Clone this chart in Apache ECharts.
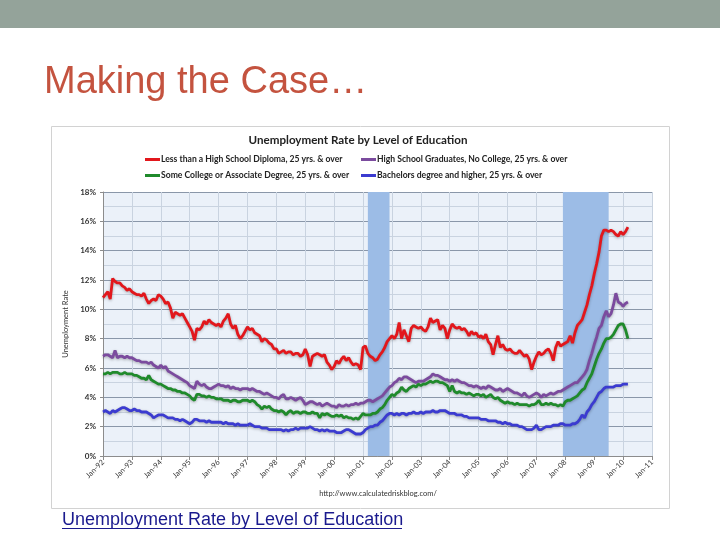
<!DOCTYPE html>
<html><head><meta charset="utf-8">
<script src="https://cdn.jsdelivr.net/npm/echarts@6/dist/echarts.min.js"></script>
<style>html,body{margin:0;padding:0;background:#fff}#c{width:720px;height:540px}</style>
</head><body><div id="c"></div>
<script>
// Monthly unemployment rates (%), Jan-1992 .. Mar-2010
const lessHS = [
10.8,11.0,11.2,10.7,12.1,11.9,11.8,11.8,11.6,11.5,11.3,11.4,
11.2,11.1,11.0,11.0,10.9,11.1,10.7,10.4,10.6,10.7,10.6,11.0,
10.9,10.7,10.4,10.5,10.1,9.4,9.8,9.7,9.6,9.7,9.4,9.1,
8.8,8.5,7.9,8.7,8.6,8.8,9.2,9.0,9.3,9.1,9.0,8.9,
9.0,8.8,9.2,9.4,9.7,9.0,8.7,8.9,8.3,8.0,8.2,8.5,
8.8,8.6,8.7,8.4,8.3,8.2,7.8,8.0,7.9,7.7,7.6,7.3,
7.3,7.0,7.1,7.2,7.0,7.1,7.1,6.9,7.0,7.0,6.8,6.9,
7.3,6.9,6.1,6.8,6.9,7.0,6.9,6.8,6.9,6.4,6.2,5.9,
6.1,6.5,6.3,6.6,6.8,6.5,6.7,6.4,6.2,6.3,6.2,5.9,
7.4,7.5,7.0,6.8,6.7,6.5,6.6,6.9,7.1,7.4,7.8,8.0,
8.2,8.0,8.3,9.1,8.0,8.6,8.2,7.8,8.7,8.9,8.8,8.7,
8.8,8.6,8.5,8.8,9.4,9.1,9.2,9.3,8.6,8.9,8.7,8.0,
8.6,9.0,8.8,8.7,8.8,8.6,8.7,8.5,8.2,8.5,8.3,8.4,
8.1,8.2,8.0,8.3,7.8,7.6,6.9,7.6,8.2,7.4,7.6,7.3,
7.2,7.3,7.1,7.0,7.0,7.2,7.0,6.8,6.9,6.6,5.9,6.4,
6.8,7.1,6.9,7.0,7.2,7.3,7.0,6.5,7.4,7.8,7.5,7.6,
7.7,7.8,8.2,7.7,8.4,8.9,9.1,9.3,9.8,10.3,11.0,11.6,
12.4,13.1,13.9,15.0,15.4,15.4,15.3,15.4,15.3,15.1,15.0,15.3,
15.1,15.3,15.6];
const hsGrad = [
6.8,6.9,6.9,6.8,6.7,7.2,6.7,6.8,6.8,6.7,6.8,6.7,
6.7,6.6,6.5,6.5,6.4,6.4,6.4,6.3,6.4,6.2,6.1,6.0,
6.2,6.0,6.1,5.8,5.7,5.6,5.5,5.4,5.3,5.2,5.1,5.0,
4.8,4.7,4.6,5.1,4.9,4.8,4.9,4.7,4.6,4.6,4.7,4.8,
4.9,4.8,4.8,4.7,4.8,4.6,4.7,4.6,4.6,4.5,4.6,4.6,
4.6,4.5,4.6,4.5,4.4,4.4,4.3,4.2,4.3,4.2,4.1,4.0,
4.0,3.9,4.1,4.2,3.9,3.9,4.0,3.9,3.8,3.9,4.0,3.8,
3.5,3.6,3.7,3.7,3.6,3.5,3.6,3.4,3.5,3.6,3.5,3.4,
3.4,3.3,3.5,3.4,3.4,3.5,3.4,3.5,3.5,3.6,3.5,3.6,
3.6,3.7,3.8,3.8,3.7,3.8,3.9,4.0,4.1,4.3,4.5,4.7,
4.8,5.0,5.1,5.3,5.2,5.4,5.4,5.3,5.2,5.1,5.0,5.1,
5.1,5.1,5.2,5.3,5.4,5.6,5.5,5.5,5.4,5.3,5.2,5.2,
5.1,5.2,5.1,5.2,5.1,5.0,5.0,4.9,4.8,4.8,4.7,4.8,
4.7,4.6,4.7,4.6,4.8,4.7,4.6,4.5,4.5,4.6,4.4,4.5,
4.6,4.5,4.4,4.3,4.3,4.2,4.1,4.3,4.1,4.0,4.1,4.2,
4.3,4.2,4.0,4.2,4.1,4.2,4.3,4.2,4.3,4.4,4.4,4.5,
4.6,4.7,4.8,4.9,5.0,5.0,5.2,5.4,5.6,5.9,6.5,7.0,
7.6,8.1,8.7,8.9,9.5,9.9,9.5,9.7,10.3,11.1,10.5,10.4,
10.2,10.4,10.5];
const someCollege = [
5.6,5.6,5.7,5.6,5.7,5.7,5.7,5.6,5.6,5.7,5.6,5.6,
5.6,5.5,5.5,5.4,5.3,5.3,5.2,5.5,5.2,5.1,5.0,4.9,
4.9,4.8,4.7,4.6,4.6,4.5,4.5,4.4,4.4,4.3,4.3,4.2,
4.1,3.9,3.8,4.2,4.2,4.1,4.1,4.0,4.1,4.0,4.0,3.9,
3.9,3.9,3.8,3.8,3.8,3.7,3.8,3.8,3.7,3.7,3.8,3.8,
3.8,3.7,3.8,3.7,3.5,3.4,3.2,3.4,3.3,3.4,3.2,3.1,
3.1,3.0,3.1,3.0,2.8,3.0,3.1,2.9,3.0,3.0,2.9,3.0,
3.0,2.9,2.9,3.0,2.9,2.9,2.6,2.9,2.8,2.9,2.8,2.7,
2.7,2.8,2.7,2.8,2.6,2.7,2.6,2.6,2.5,2.6,2.5,2.7,
2.9,2.8,2.8,2.8,2.9,2.9,3.0,3.2,3.3,3.5,3.8,4.0,
4.2,4.1,4.3,4.4,4.7,4.5,4.4,4.6,4.7,4.8,4.7,4.9,
4.8,4.9,4.9,5.0,5.1,5.0,5.1,5.1,5.0,5.0,4.9,4.8,
4.4,4.8,4.4,4.3,4.4,4.3,4.3,4.2,4.3,4.2,4.1,4.2,
4.2,4.1,4.2,4.0,4.1,4.2,4.0,3.9,4.0,3.8,3.7,3.6,
3.7,3.6,3.6,3.5,3.6,3.5,3.5,3.5,3.5,3.4,3.5,3.5,
3.6,3.8,3.5,3.5,3.6,3.5,3.6,3.5,3.5,3.4,3.5,3.4,
3.7,3.8,3.8,3.9,4.0,4.1,4.3,4.5,4.6,5.0,5.3,5.6,
6.1,6.6,7.0,7.3,7.7,8.0,8.0,8.1,8.3,8.6,8.9,9.0,
9.0,8.6,8.0];
const bachelors = [
3.0,3.1,3.0,2.9,3.1,3.0,3.1,3.2,3.3,3.3,3.2,3.1,
3.1,3.2,3.1,3.1,3.0,3.0,3.0,2.9,2.8,2.6,2.7,2.8,
2.8,2.8,2.7,2.6,2.6,2.6,2.5,2.5,2.4,2.5,2.4,2.3,
2.2,2.3,2.5,2.5,2.4,2.4,2.4,2.3,2.4,2.3,2.3,2.3,
2.3,2.3,2.2,2.3,2.2,2.2,2.2,2.1,2.2,2.1,2.1,2.1,
2.1,2.2,2.1,2.0,2.0,2.0,1.9,1.9,1.9,1.8,1.8,1.8,
1.8,1.8,1.8,1.7,1.8,1.7,1.8,1.8,1.9,1.8,1.9,1.9,
1.9,1.9,2.0,1.9,1.8,1.8,1.7,1.8,1.7,1.8,1.7,1.7,
1.7,1.6,1.6,1.6,1.7,1.8,1.8,1.7,1.6,1.5,1.5,1.5,
1.6,1.8,1.9,2.0,2.0,2.1,2.1,2.3,2.4,2.6,2.8,2.9,
2.9,2.8,2.9,2.8,2.9,2.9,2.8,2.9,2.9,3.0,2.9,2.9,
3.0,2.9,3.0,3.0,3.0,3.1,3.0,3.0,3.1,3.1,3.1,3.0,
2.9,2.9,2.9,2.8,2.8,2.8,2.7,2.7,2.6,2.6,2.6,2.6,
2.6,2.5,2.5,2.5,2.4,2.4,2.4,2.4,2.3,2.3,2.2,2.3,
2.2,2.2,2.1,2.1,2.1,2.0,2.0,1.9,1.8,1.8,1.8,1.9,
2.1,1.8,1.8,1.9,2.0,2.0,2.0,2.1,2.1,2.1,2.2,2.2,
2.1,2.1,2.1,2.2,2.2,2.3,2.5,2.8,2.6,3.0,3.2,3.5,
3.7,4.0,4.3,4.4,4.6,4.7,4.7,4.7,4.7,4.8,4.8,4.8,
4.9,4.9,4.9];

const seriesNames = [
  'Less than a High School Diploma, 25 yrs. & over',
  'High School Graduates, No College, 25 yrs. & over',
  'Some College or Associate Degree, 25 yrs. & over',
  'Bachelors degree and higher, 25 yrs. & over'
];
const seriesColors = ['#E2171C', '#7B4B9E', '#1F8A2B', '#3B3BD0'];
const seriesData = [lessHS, hsGrad, someCollege, bachelors];
const monthNames = ['Jan','Feb','Mar','Apr','May','Jun','Jul','Aug','Sep','Oct','Nov','Dec'];
const startYear = 1992, endYear = 2011;
const recessions = [['Mar-01', 'Dec-01'], ['Dec-07', 'Jul-09']];
const yTicks = {min: 0, max: 18, interval: 2};

const categories = [];
for (let y = startYear; y <= endYear; y++) {
  for (let m = 0; m < 12; m++) {
    if (y === endYear && m > 0) break;
    categories.push(monthNames[m] + '-' + String(y % 100).padStart(2, '0'));
  }
}
const isJan = (i) => i % 12 === 0;

const legendPos = [[145, 155], [361, 155], [145, 171], [361, 171]];

const chart = echarts.init(document.getElementById('c'));
const series = seriesData.map((d, i) => ({
  name: seriesNames[i], type: 'line', data: d, showSymbol: false, symbol: 'none',
  z: 3 + i,
  lineStyle: {color: seriesColors[i], width: 2.8, shadowColor: 'rgba(0,0,0,0.3)', shadowBlur: 3, shadowOffsetY: 1},
  itemStyle: {color: seriesColors[i]}
}));
series.push({
  type: 'line', data: [], z: 1, silent: true,
  markArea: {silent: true, itemStyle: {color: '#9CBCE6'},
    data: recessions.map(r => [{xAxis: r[0]}, {xAxis: r[1]}])}
});

chart.setOption({
  animation: false,
  backgroundColor: '#ffffff',
  graphic: [
    {type: 'rect', z: -100, shape: {x: 0, y: 0, width: 720, height: 28}, style: {fill: '#94A39A'}},
    {type: 'text', z: 10, x: 44, y: 83, style: {text: 'Making the Case\u2026', font: '38px "Liberation Sans", Arial, sans-serif', fill: '#C4533F', textVerticalAlign: 'middle'}},
    {type: 'rect', z: -100, shape: {x: 51.5, y: 126.5, width: 618, height: 382}, style: {fill: '#ffffff', stroke: '#D2D2D2', lineWidth: 1}},
    {type: 'text', z: 10, x: 358, y: 140, style: {text: 'Unemployment Rate by Level of Education', font: 'bold 11.6px Lato, "Open Sans", sans-serif', fill: '#222', textAlign: 'center', textVerticalAlign: 'middle'}},
    {type: 'text', z: 10, x: 378, y: 494, style: {text: 'http://www.calculatedriskblog.com/', font: '7.5px Lato, "Open Sans", sans-serif', fill: '#333', textAlign: 'center', textVerticalAlign: 'middle'}},
    {type: 'text', z: 10, x: 62, y: 520, style: {text: 'Unemployment Rate by Level of Education', font: '18px "Liberation Sans", Arial, sans-serif', fill: '#1A1A8E', textVerticalAlign: 'middle'}},
    {type: 'line', z: 10, shape: {x1: 62, y1: 528.5, x2: 402, y2: 528.5}, style: {stroke: '#1A1A8E', lineWidth: 1}}
  ],
  legend: seriesNames.map((n, i) => ({
    data: [n], left: legendPos[i][0], top: legendPos[i][1], icon: 'rect', itemWidth: 15, itemHeight: 3, itemGap: 0,
    selectedMode: false, padding: 0,
    textStyle: {fontSize: 8.6, fontWeight: 'bold', color: '#222', fontFamily: 'Lato, "Open Sans", sans-serif', padding: [0, 0, 0, -4]}
  })),
  grid: {left: 103, right: 68, top: 192, bottom: 84, show: true, backgroundColor: '#EBF1F9', borderWidth: 0},
  xAxis: {
    type: 'category', data: categories, boundaryGap: false,
    axisLine: {lineStyle: {color: '#8C8C8C'}},
    axisTick: {show: true, interval: (i) => isJan(i), length: 4, lineStyle: {color: '#8C8C8C'}},
    axisLabel: {interval: (i) => isJan(i), rotate: 45, fontSize: 7.5, color: '#333', fontFamily: 'Lato, "Open Sans", sans-serif', margin: 5},
    splitLine: {show: true, interval: (i) => isJan(i), lineStyle: {color: '#C9D3E0', width: 1}}
  },
  yAxis: {
    type: 'value', min: yTicks.min, max: yTicks.max, interval: yTicks.interval,
    name: 'Unemployment Rate', nameLocation: 'middle', nameGap: 33,
    nameTextStyle: {fontSize: 7.5, color: '#333', fontFamily: 'Lato, "Open Sans", sans-serif'},
    axisLine: {show: true, lineStyle: {color: '#8C8C8C'}},
    axisTick: {show: true, length: 3, lineStyle: {color: '#8C8C8C'}},
    axisLabel: {formatter: '{value}%', fontSize: 8, fontWeight: 'bold', color: '#333', fontFamily: 'Lato, "Open Sans", sans-serif', margin: 7},
    splitLine: {show: true, lineStyle: {color: '#8A97A9', width: 1}},
    minorTick: {show: false, splitNumber: 2},
    minorSplitLine: {show: true, lineStyle: {color: '#C9D3E0', width: 1}}
  },
  series: series
});
</script></body></html>
